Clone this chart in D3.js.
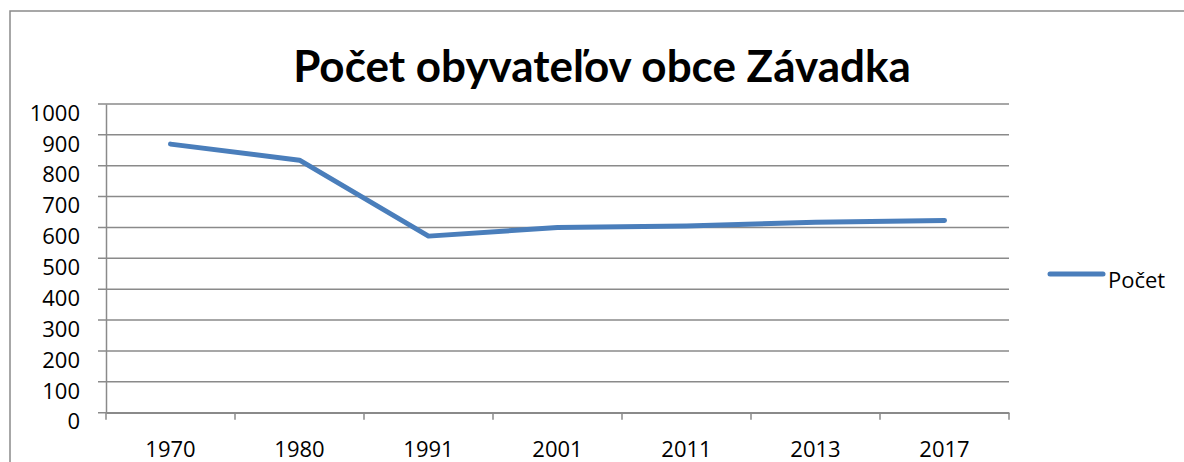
<!DOCTYPE html>
<html>
<head>
<meta charset="utf-8">
<script src="https://cdn.jsdelivr.net/npm/d3@7"></script>
<style>
  body { margin: 0; background: #fff; }
  svg { display: block; font-family: 'Open Sans', sans-serif; }
</style>
</head>
<body>
<div id="chart"></div>
<script>
const width = 1184;
const height = 462;

const years = ['1970', '1980', '1991', '2001', '2011', '2013', '2017'];
const pocet = [870, 818, 572, 600, 605, 617, 623];
const yTicks = [0, 100, 200, 300, 400, 500, 600, 700, 800, 900, 1000];
const title = 'Počet obyvateľov obce Závadka';
const seriesName = 'Počet';

const plot = { left: 106, right: 1009, top: 104, bottom: 412.7 };
const gridColor = '#8a8a8a';
const lineColor = '#4a7ebb';
const labelFont = "'Open Sans', sans-serif";

const svg = d3.select('#chart')
    .append('svg')
    .attr('width', width)
    .attr('height', height);

// outer chart border (right/bottom fall outside the window)
svg.append('rect')
    .attr('x', 10)
    .attr('y', 11)
    .attr('width', 1200)
    .attr('height', 480)
    .attr('fill', 'none')
    .attr('stroke', gridColor)
    .attr('stroke-width', 1.5);

const xScale = d3.scaleBand()
    .domain(years)
    .range([plot.left, plot.right])
    .padding(0);

const yScale = d3.scaleLinear()
    .domain([0, 1000])
    .range([plot.bottom, plot.top]);

// horizontal gridlines
svg.append('g')
    .selectAll('line')
    .data(yTicks)
    .enter()
    .append('line')
    .attr('x1', plot.left - 8)
    .attr('x2', plot.right)
    .attr('y1', d => yScale(d))
    .attr('y2', d => yScale(d))
    .attr('stroke', gridColor)
    .attr('stroke-width', 1.5);

// y axis
const yAxis = d3.axisLeft(yScale)
    .tickValues(yTicks)
    .tickFormat(d3.format('d'))
    .tickSize(0)
    .tickPadding(26);
const yAxisG = svg.append('g')
    .attr('transform', 'translate(' + plot.left + ',0)')
    .call(yAxis);
yAxisG.select('.domain')
    .attr('stroke', gridColor)
    .attr('stroke-width', 1.5);
yAxisG.selectAll('text')
    .attr('dy', '0.35em')
    .attr('y', 8.5)
    .attr('fill', '#000')
    .style('font-size', '22px')
    .style('font-family', labelFont);

// x axis
const xAxis = d3.axisBottom(xScale)
    .tickSize(0)
    .tickSizeOuter(0);
const xAxisG = svg.append('g')
    .attr('transform', 'translate(0,' + plot.bottom + ')')
    .call(xAxis);
xAxisG.select('.domain')
    .attr('stroke', gridColor)
    .attr('stroke-width', 1.5);
xAxisG.selectAll('text')
    .attr('y', 44)
    .attr('dy', 0)
    .attr('fill', '#000')
    .style('font-size', '22px')
    .style('font-family', labelFont);

// category boundary ticks
const bounds = years.map(d => xScale(d)).concat([plot.right]);
svg.append('g')
    .selectAll('line')
    .data(bounds)
    .enter()
    .append('line')
    .attr('x1', d => d)
    .attr('x2', d => d)
    .attr('y1', plot.bottom)
    .attr('y2', plot.bottom + 7)
    .attr('stroke', gridColor)
    .attr('stroke-width', 1.5);

// the series line
const line = d3.line()
    .x((d, i) => xScale(years[i]) + xScale.bandwidth() / 2)
    .y(d => yScale(d));

svg.append('path')
    .datum(pocet)
    .attr('d', line)
    .attr('fill', 'none')
    .attr('stroke', lineColor)
    .attr('stroke-width', 5)
    .attr('stroke-linecap', 'round')
    .attr('stroke-linejoin', 'round');

// title
svg.append('text')
    .attr('x', 602)
    .attr('y', 82)
    .attr('text-anchor', 'middle')
    .style('font-family', 'Lato, sans-serif')
    .style('font-size', '44px')
    .style('font-weight', 'bold')
    .text(title);

// legend
svg.append('line')
    .attr('x1', 1050)
    .attr('x2', 1103)
    .attr('y1', 274)
    .attr('y2', 274)
    .attr('stroke', lineColor)
    .attr('stroke-width', 5)
    .attr('stroke-linecap', 'round');
svg.append('text')
    .attr('x', 1108)
    .attr('y', 288)
    .style('font-size', '22px')
    .style('font-family', labelFont)
    .text(seriesName);
</script>
</body>
</html>
